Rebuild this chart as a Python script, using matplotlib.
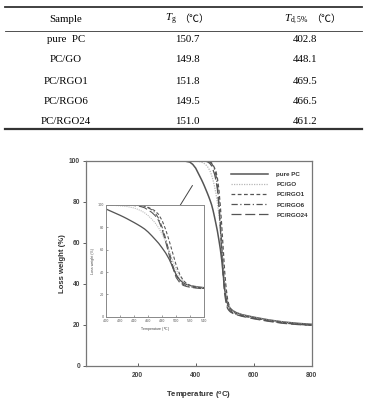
import matplotlib
matplotlib.use('Agg')
import matplotlib.pyplot as plt
from matplotlib.lines import Line2D

plt.rcParams['mathtext.fontset'] = 'custom'
plt.rcParams['mathtext.rm'] = 'Liberation Serif'
plt.rcParams['mathtext.it'] = 'Liberation Serif:italic'
plt.rcParams['mathtext.sf'] = 'Liberation Sans:bold'

# table data
samples = ['pure  PC', 'PC/GO', 'PC/RGO1', 'PC/RGO6', 'PC/RGO24']
tg = ['150.7', '149.8', '151.8', '149.5', '151.0']
td5 = ['402.8', '448.1', '469.5', '466.5', '461.2']
header_sample = 'Sample'
header_tg = r'$T_\mathrm{g}$'
header_td = r'$T_{\mathrm{d,5\%}}$'
header_unit = '（℃）'

# TGA curves
temp = [145, 200, 300, 360, 380, 390,
        400, 405, 410, 415, 420, 425, 430, 435, 440, 445, 450, 455, 460, 465,
        470, 475, 480, 485, 490, 495, 500, 505, 510, 515, 520, 525, 530, 535, 540,
        560, 600, 650, 700, 750, 800]
w_pc = [100, 100, 100, 99.9, 99.3, 98.2,
        96.4, 95, 93.6, 92.2, 90.8, 89.3, 87.7, 86, 84.3, 82.5, 80.6, 78.5, 75.8, 72.6,
        69.2, 65.7, 61.5, 57, 51.5, 44.5, 37.5, 33, 30.3, 28.8, 27.9, 27.3, 26.8, 26.4, 26,
        25, 23.8, 22.5, 21.5, 20.8, 20.3]
w_go = [100, 100, 100, 100, 100, 100,
        99.9, 99.8, 99.7, 99.5, 99.3, 99, 98.6, 98, 97.3, 96.2, 94.8, 93, 90.5, 87.5,
        84, 79.5, 74, 67, 59, 50, 42, 36, 32, 29.5, 28, 27.2, 26.6, 26.1, 25.8,
        24.8, 23.6, 22.4, 21.4, 20.6, 20.1]
w_rgo1 = [100, 100, 100, 100, 100, 100,
          100, 100, 100, 100, 100, 100, 100, 100, 100, 99.8, 99.5, 98.9, 97.9, 96.5,
          94.7, 91.5, 86, 78, 68, 57, 46, 38, 32.5, 29.5, 28, 27, 26.4, 25.9, 25.5,
          24.6, 23.4, 22.2, 21.2, 20.5, 20.0]
w_rgo6 = [100, 100, 100, 100, 100, 100,
          100, 100, 100, 100, 100, 100, 100, 100, 99.8, 99.6, 99.2, 98.6, 97.5, 95.8,
          93, 88, 80, 70, 58, 46, 37, 32, 29, 27.6, 26.8, 26.3, 25.8, 25.5, 25.2,
          24.4, 23.2, 22.0, 21.0, 20.3, 19.8]
w_rgo24 = [100, 100, 100, 100, 100, 100,
           100, 100, 100, 100, 100, 100, 100, 99.7, 99.5, 99.1, 98.5, 97.5, 95.5, 93.5,
           90.5, 86, 78, 67, 55, 44, 35, 30.5, 28, 27, 26.3, 25.9, 25.5, 25.2, 25,
           24.2, 23.0, 21.8, 20.8, 20.2, 19.8]

series = [
    ('pure PC', w_pc, dict(color='#555555', lw=1.1, ls='-')),
    ('PC/GO', w_go, dict(color='#b8b8b8', lw=0.9, ls=(0, (1, 1)))),
    ('PC/RGO1', w_rgo1, dict(color='#555555', lw=0.9, ls=(0, (3, 2)))),
    ('PC/RGO6', w_rgo6, dict(color='#555555', lw=0.9, ls=(0, (5, 2, 1, 2)))),
    ('PC/RGO24', w_rgo24, dict(color='#555555', lw=0.9, ls=(0, (8, 3)))),
]

fig = plt.figure(figsize=(3.66, 4.04), dpi=100)
W, H = 366.0, 404.0

def fy(py):
    return 1 - py / H

# ---- table ----
serif = ['Liberation Serif', 'DejaVu Serif']
cjk = ['Noto Sans CJK SC', 'DejaVu Sans']
col_x = [66, 187, 305]
fig.text(col_x[0] / W, fy(19), header_sample, ha='center', va='center',
         fontsize=7.8, family=serif)
fig.text(177 / W, fy(19), header_tg, ha='right', va='center', fontsize=7.8)
fig.text(179.5 / W, fy(19), header_unit, ha='left', va='center', fontsize=7.2,
         family=cjk)
fig.text(309 / W, fy(19), header_td, ha='right', va='center', fontsize=7.8)
fig.text(311.5 / W, fy(19), header_unit, ha='left', va='center', fontsize=7.2,
         family=cjk)
row_y = [40, 60, 81, 101, 121]
for ry, s, a, b in zip(row_y, samples, tg, td5):
    for hx, txt in zip(col_x, [s, a, b]):
        fig.text(hx / W, fy(ry), txt, ha='center', va='center', fontsize=7.8,
                 family=serif)
for ly, lw in [(7.3, 1.3), (31, 0.6), (129.3, 1.6)]:
    fig.add_artist(Line2D([5 / W, 362 / W], [fy(ly), fy(ly)], color='#333333',
                          lw=lw, transform=fig.transFigure))

# ---- main chart ----
sans = ['Liberation Sans', 'DejaVu Sans']
ax = fig.add_axes([85.7 / W, fy(366), 226 / W, (366 - 160.7) / H])
for name, w, st in series:
    ax.plot(temp, w, label=name, **st)
ax.set_xlim(21, 800)
ax.set_ylim(0, 100)
ax.set_xticks([200, 400, 600, 800])
ax.set_yticks([0, 20, 40, 60, 80, 100])
ax.tick_params(axis='x', direction='in', length=2, width=0.6, labelsize=4.8,
               pad=4, colors='#444444')
ax.tick_params(axis='y', direction='out', length=2, width=0.6, labelsize=4.8,
               pad=2, colors='#444444')
for lab in ax.get_xticklabels() + ax.get_yticklabels():
    lab.set_fontweight('bold')
    lab.set_family(sans)
for sp in ax.spines.values():
    sp.set_color('#777777')
    sp.set_linewidth(0.9)
ax.set_xlabel(r'Temperature ($^{\mathsf{o}}$C)', fontsize=5.6, fontweight='bold',
              family=sans, labelpad=8, color='#333333')
ax.set_ylabel('Loss weight (%)', fontsize=5.6, fontweight='bold', family=sans,
              labelpad=2, color='#333333')
leg = ax.legend(loc='upper left',
                bbox_to_anchor=((230.7 - 85.7) / 226, 1 - (172 - 160.7) / 205.3),
                frameon=False, handlelength=6.0, handletextpad=1.3,
                labelspacing=0.75, borderaxespad=0, borderpad=0,
                prop=dict(family=sans, weight='bold', size=4.5))
for t in leg.get_texts():
    t.set_color('#333333')
ax.annotate('', xy=(314, 70.8), xytext=(394, 89.1),
            arrowprops=dict(arrowstyle='-|>', color='#444444', lw=0.7,
                            mutation_scale=6))

# ---- inset ----
ins = fig.add_axes([106 / W, fy(316.7), 98.3 / W, (316.7 - 205) / H])
for name, w, st in series:
    st2 = dict(st)
    st2['lw'] = st['lw'] * 0.85
    ins.plot(temp, w, **st2)
ins.set_xlim(400, 540)
ins.set_ylim(0, 100)
ins.set_xticks(range(400, 541, 20))
ins.set_yticks([0, 20, 40, 60, 80, 100])
ins.tick_params(direction='in', length=1.2, width=0.4, labelsize=2.4, pad=1.5,
                colors='#555555')
for sp in ins.spines.values():
    sp.set_color('#888888')
    sp.set_linewidth(0.7)
ins.set_xlabel(r'Temperature ($^{\mathsf{o}}$C)', fontsize=2.6, family=sans,
               labelpad=2, color='#444444')
ins.set_ylabel('Loss weight (%)', fontsize=2.6, family=sans, labelpad=2,
               color='#444444')

fig.savefig('out.png', dpi=100)
